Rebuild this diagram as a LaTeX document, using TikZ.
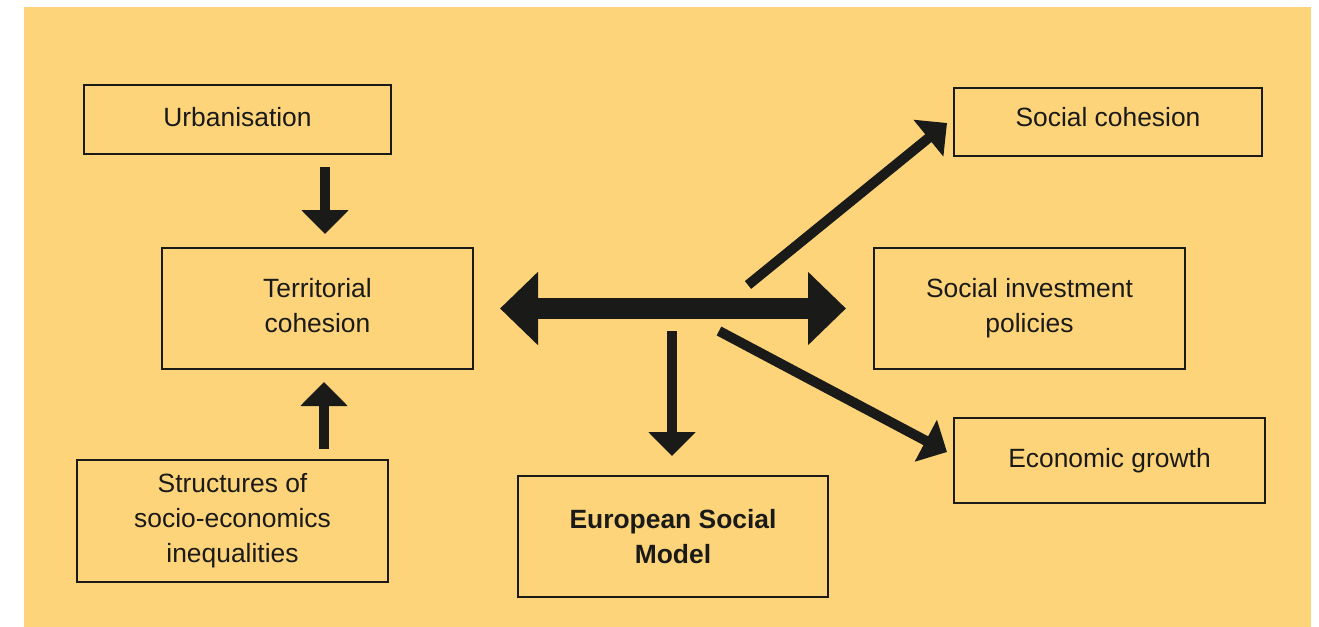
\documentclass[tikz,border=0pt]{standalone}
\usepackage{fontspec}
\setmainfont{Liberation Sans}
\usetikzlibrary{arrows.meta,calc}
\definecolor{bgyellow}{RGB}{253,212,122}
\definecolor{ink}{RGB}{26,26,24}

\begin{document}
\begin{tikzpicture}[x=0.5pt, y=-0.5pt,
  box/.style={draw=ink, line width=1pt, text=ink, align=center, inner sep=0pt,
    font=\fontsize{13.2}{17.5}\selectfont},
  arr/.style={draw=ink, line width=5pt, -{Triangle[length=12pt,width=23pt]}},
  bigarr/.style={draw=ink, line width=10.5pt,
    {Triangle[length=19pt,width=35.5pt]}-{Triangle[length=19pt,width=35.5pt]}}]

  \useasboundingbox (0,0) rectangle (1319,627);
  \fill[bgyellow] (24,7) rectangle (1311,627);

  \node[box, minimum width=153.5pt, minimum height=34.5pt, text depth=2.5pt] (urb) at (237.5,119.5) {Urbanisation};
  \node[box, minimum width=155.5pt, minimum height=60.5pt] (tc) at (317.5,308.5) {Territorial\\cohesion\vphantom{p}};
  \node[box, minimum width=155.5pt, minimum height=61pt] (soc) at (232.5,521) {Structures of\\socio-economics\\inequalities};
  \node[box, minimum width=155pt, minimum height=60.5pt, font=\fontsize{13.2}{17.5}\selectfont\bfseries] (esm) at (673,536.5) {European Social\\Model};
  \node[box, minimum width=154pt, minimum height=34pt, text depth=5pt] (sc) at (1108,122) {Social cohesion};
  \node[box, minimum width=155.5pt, minimum height=60.5pt] (sip) at (1029.5,308.5) {Social investment\\policies};
  \node[box, minimum width=155.5pt, minimum height=42.5pt] (eg) at (1109.5,460.5) {Economic growth};

  \draw[arr] ($(urb.south)+(87.5,12)$) -- ($(tc.north)+(7.5,-13)$);
  \draw[arr] ($(soc.north)+(91.5,-10)$) -- ($(tc.south)+(6.5,12)$);
  \draw[bigarr] ($(tc.east)+(26,0)$) -- ($(sip.west)+(-27,0)$);

  \coordinate (hub-d) at (672,331);
  \coordinate (hub-se) at (719,331);
  \coordinate (hub-ne) at (748,285);
  \draw[arr] (hub-d) -- ($(esm.north)+(-1,-19)$);
  \draw[arr] (hub-se) -- ($(eg.west)+(-6,-8.5)$);
  \draw[arr] (hub-ne) -- ($(sc.west)+(-6,1)$);

\end{tikzpicture}
\end{document}
